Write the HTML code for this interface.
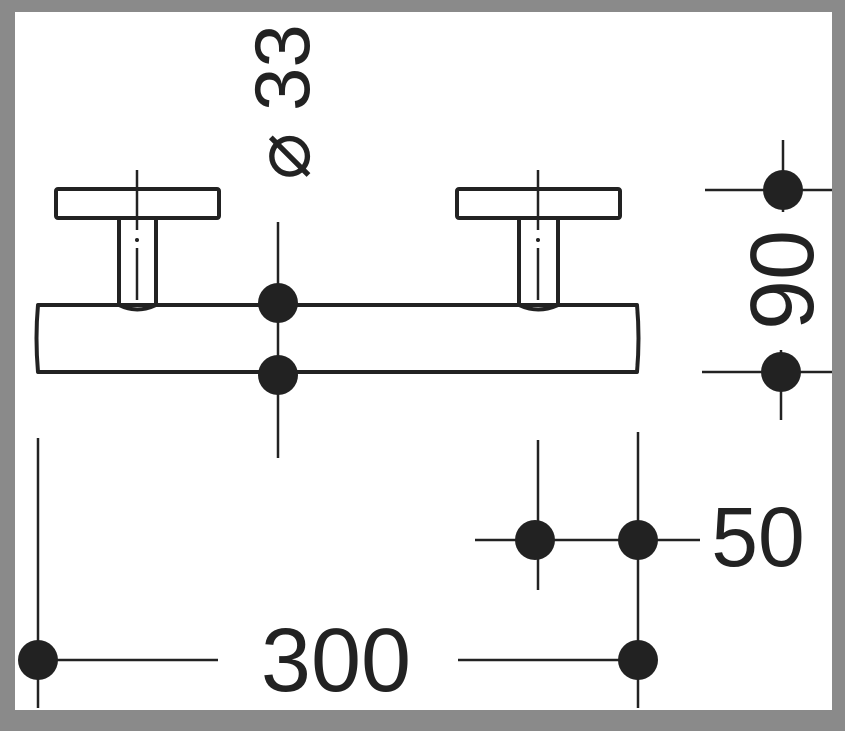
<!DOCTYPE html>
<html><head><style>
html,body{margin:0;padding:0;background:#8a8a8a;}
svg{display:block}
text{font-family:"Liberation Sans",sans-serif;fill:#222;}
</style></head><body>
<svg width="845" height="731" viewBox="0 0 845 731">
<rect x="0" y="0" width="845" height="731" fill="#8a8a8a"/>
<rect x="15" y="12" width="817" height="698" fill="#fff"/>
<g stroke="#222" stroke-width="4" fill="none" stroke-linejoin="round">
 <rect x="56" y="189" width="163" height="29" rx="2"/>
 <rect x="457" y="189" width="163" height="29" rx="2"/>
 <path d="M119 218 V305 M156 218 V305 M119 305 Q137 314 156 305"/>
 <path d="M519 218 V305 M558 218 V305 M519 305 Q538 314 558 305"/>
 <path d="M38 305 H119 M156 305 H519 M558 305 H637 Q640 338 637 372 H38 Q35 338 38 305 Z" />
</g>
<g stroke="#222" stroke-width="2.5">
 <line x1="137" y1="170" x2="137" y2="230"/>
 <line x1="137" y1="248" x2="137" y2="300"/>
 <line x1="538" y1="170" x2="538" y2="230"/>
 <line x1="538" y1="248" x2="538" y2="300"/>
 <line x1="278" y1="222" x2="278" y2="458"/>
 <line x1="705" y1="190" x2="832" y2="190"/>
 <line x1="783" y1="140" x2="783" y2="212"/>
 <line x1="702" y1="372" x2="832" y2="372"/>
 <line x1="781" y1="350" x2="781" y2="420"/>
 <line x1="475" y1="540" x2="700" y2="540"/>
 <line x1="538" y1="440" x2="538" y2="590"/>
 <line x1="638" y1="432" x2="638" y2="708"/>
 <line x1="38" y1="438" x2="38" y2="708"/>
 <line x1="38" y1="660" x2="218" y2="660"/>
 <line x1="458" y1="660" x2="638" y2="660"/>
</g>
<g fill="#222">
 <circle cx="137" cy="240" r="2"/><circle cx="538" cy="240" r="2"/>
 <circle cx="278" cy="303" r="20"/><circle cx="278" cy="375" r="20"/>
 <circle cx="783" cy="190" r="20"/><circle cx="781" cy="372" r="20"/>
 <circle cx="535" cy="540" r="20"/><circle cx="638" cy="540" r="20"/>
 <circle cx="38" cy="660" r="20"/><circle cx="638" cy="660" r="20"/>
</g>
<text x="0" y="0" font-size="78" text-anchor="middle" transform="translate(309,102) rotate(-90)">⌀ 33</text>
<text x="0" y="0" font-size="90" text-anchor="middle" transform="translate(813,280) rotate(-90)">90</text>
<text x="758" y="566" font-size="84" text-anchor="middle">50</text>
<text x="336" y="691" font-size="90" text-anchor="middle">300</text>
</svg>
</body></html>
